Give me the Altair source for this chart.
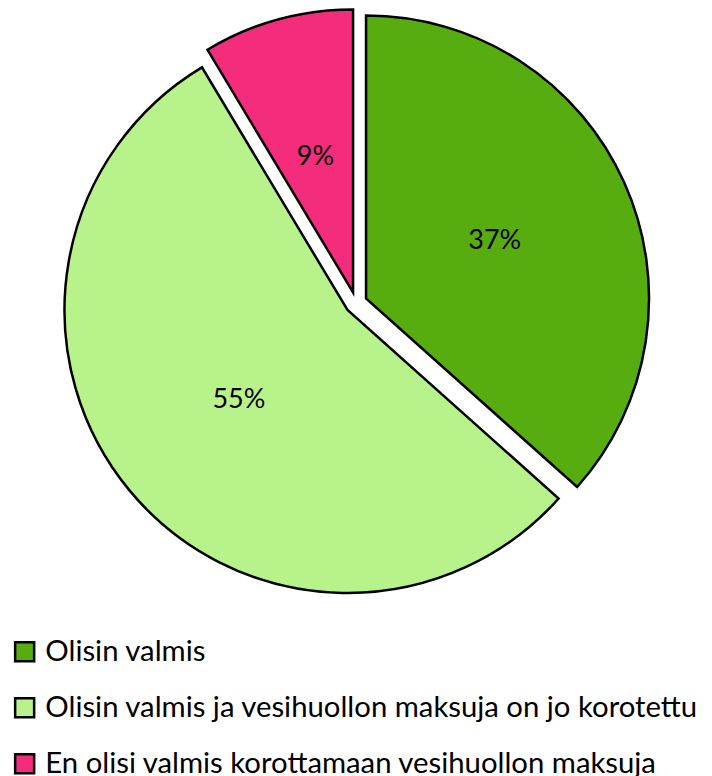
import math
import altair as alt
import pandas as pd

categories = [
    "Olisin valmis",
    "Olisin valmis ja vesihuollon maksuja on jo korotettu",
    "En olisi valmis korottamaan vesihuollon maksuja",
]
values = [36.6, 54.8, 8.6]
labels = ["37%", "55%", "9%"]
colors = ["#57ad0f", "#b8f28a", "#f42c7c"]
order = [0, 1, 2]

df = pd.DataFrame({"category": categories, "value": values, "label": labels, "order": order})

W, H = 696, 768
CX, CY = 348, 295
EXPLODE = 11
R = 283
LABEL_R = 141
FONT = "Lato"

base = (
    alt.Chart(df)
    .transform_joinaggregate(total="sum(value)")
    .transform_window(cum="sum(value)", sort=[alt.SortField("order")])
    .transform_calculate(start="(datum.cum - datum.value) / datum.total")
    .transform_calculate(end="datum.cum / datum.total")
    .transform_calculate(mid="2 * PI * (datum.cum - datum.value / 2) / datum.total")
    .transform_calculate(ex=f"{EXPLODE} * sin(datum.mid)")
    .transform_calculate(ey=f"{EXPLODE} * cos(datum.mid)")
    .transform_calculate(lx=f"{EXPLODE + LABEL_R} * sin(datum.mid)")
    .transform_calculate(ly=f"{EXPLODE + LABEL_R} * cos(datum.mid)")
)

xscale = alt.Scale(domain=[-CX, W - CX], nice=False, zero=False)
yscale = alt.Scale(domain=[-(H - CY), CY], nice=False, zero=False)

arcs = base.mark_arc(outerRadius=R, stroke="black", strokeWidth=2.5).encode(
    theta=alt.Theta("start:Q", scale=alt.Scale(domain=[0, 1], range=[0, 2 * math.pi])),
    theta2="end:Q",
    x=alt.X("ex:Q", scale=xscale, axis=None),
    y=alt.Y("ey:Q", scale=yscale, axis=None),
    color=alt.Color(
        "category:N",
        scale=alt.Scale(domain=categories, range=colors),
        sort=categories,
        legend=alt.Legend(
            title=None,
            orient="none",
            legendX=2,
            legendY=629,
            direction="vertical",
            symbolType="square",
            symbolSize=361,
            symbolStrokeColor="black",
            symbolStrokeWidth=2.5,
            symbolOpacity=1,
            labelFont=FONT,
            labelFontSize=29.3,
            labelColor="black",
            labelOffset=6,
            labelLimit=0,
            rowPadding=26,
            padding=0,
        ),
    ),
)

text = base.mark_text(font=FONT, fontSize=27, color="black").encode(
    x=alt.X("lx:Q", scale=xscale, axis=None),
    y=alt.Y("ly:Q", scale=yscale, axis=None),
    text="label:N",
)

chart = (
    alt.layer(arcs, text)
    .properties(width=W, height=H, padding=0, autosize=alt.AutoSizeParams(type="none"))
    .configure_view(stroke=None)
)

chart.save("out.html", embed_options={"renderer": "svg", "actions": False})
